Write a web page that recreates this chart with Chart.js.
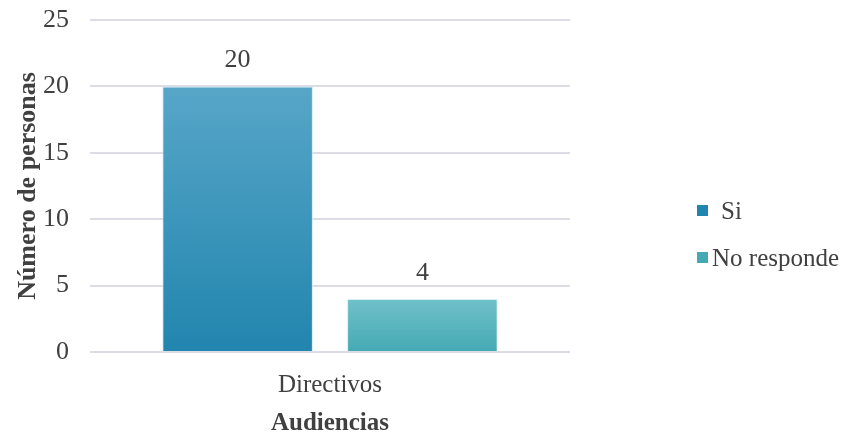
<!DOCTYPE html>
<html>
<head>
<meta charset="utf-8">
<script src="https://cdn.jsdelivr.net/npm/chart.js@4"></script>
<style>
  html, body { margin: 0; padding: 0; background: #ffffff; }
  #wrap { width: 844px; height: 439px; position: relative; }
</style>
</head>
<body>
<div id="wrap"><canvas id="chart"></canvas></div>
<script>
// data
const categories = ['Directivos'];
const seriesNames = ['Si', 'No responde'];
const siValues = [20];
const noRespondeValues = [4];
const yTicks = [0, 5, 10, 15, 20, 25];

const FONT = "'Liberation Serif', 'Times New Roman', serif";
const TEXT = '#404040';

// top / bottom colours of each bar gradient
const shades = [
    ['#57a6c8', '#2285ae'],
    ['#70c1c9', '#44a9b4']
];

function barGradient(ctx, i) {
    const chart = ctx.chart;
    const yScale = chart.scales.y;
    if (!yScale || ctx.raw == null) return shades[i][1];
    const top = yScale.getPixelForValue(ctx.raw);
    const bottom = yScale.getPixelForValue(0);
    if (!isFinite(top) || !isFinite(bottom) || top === bottom) return shades[i][1];
    const g = chart.ctx.createLinearGradient(0, top, 0, bottom);
    g.addColorStop(0, shades[i][0]);
    g.addColorStop(1, shades[i][1]);
    return g;
}

// value labels above the bars
const valueLabels = {
    id: 'valueLabels',
    afterDatasetsDraw(chart) {
        const c = chart.ctx;
        c.save();
        c.font = '26px ' + FONT;
        c.fillStyle = TEXT;
        c.textAlign = 'center';
        c.textBaseline = 'alphabetic';
        chart.data.datasets.forEach((ds, di) => {
            chart.getDatasetMeta(di).data.forEach((bar, i) => {
                c.fillText(String(ds.data[i]), bar.x, bar.y - 19);
            });
        });
        c.restore();
    }
};

// legend drawn to the right of the plot
const sideLegend = {
    id: 'sideLegend',
    afterDraw(chart) {
        const c = chart.ctx;
        const rows = [
            { y: 211, boxX: 697, textX: 721 },
            { y: 258, boxX: 697, textX: 712 }
        ];
        c.save();
        c.font = '25px ' + FONT;
        c.textBaseline = 'middle';
        c.textAlign = 'left';
        chart.data.datasets.forEach((ds, i) => {
            const r = rows[i];
            c.fillStyle = shades[i][1];
            c.fillRect(r.boxX, r.y - 6, 11, 11);
            c.fillStyle = TEXT;
            c.fillText(ds.label, r.textX, r.y + 1);
        });
        c.restore();
    }
};

new Chart(document.getElementById('chart'), {
    type: 'bar',
    data: {
        labels: categories,
        datasets: [
            {
                label: seriesNames[0],
                data: siValues,
                backgroundColor: ctx => barGradient(ctx, 0),
                borderColor: 'rgba(200,230,245,0.8)',
                borderWidth: 1,
                barPercentage: 0.815,
                categoryPercentage: 0.77
            },
            {
                label: seriesNames[1],
                data: noRespondeValues,
                backgroundColor: ctx => barGradient(ctx, 1),
                borderColor: 'rgba(200,235,240,0.8)',
                borderWidth: 1,
                barPercentage: 0.815,
                categoryPercentage: 0.77
            }
        ]
    },
    options: {
        responsive: true,
        maintainAspectRatio: false,
        animation: false,
        layout: {
            padding: { top: 20, right: 274, bottom: 0, left: 0 }
        },
        plugins: {
            legend: { display: false },
            tooltip: { enabled: false }
        },
        scales: {
            x: {
                grid: { display: false },
                border: { display: false },
                ticks: {
                    color: TEXT,
                    padding: 10,
                    font: { family: FONT, size: 25 }
                },
                title: {
                    display: true,
                    text: 'Audiencias',
                    color: TEXT,
                    padding: { top: 0, bottom: 0 },
                    font: { family: FONT, size: 25, weight: 'bold' }
                },
                afterFit(scale) {
                    scale.height = 87;
                    scale.paddingLeft = 0;
                    scale.paddingRight = 0;
                }
            },
            y: {
                min: 0,
                max: 25,
                afterBuildTicks(scale) {
                    scale.ticks = yTicks.map(v => ({ value: v }));
                },
                grid: {
                    color: '#dcdce4',
                    lineWidth: 2,
                    drawTicks: false
                },
                border: { display: false },
                ticks: {
                    color: TEXT,
                    padding: 21,
                    font: { family: FONT, size: 26 }
                },
                title: {
                    display: true,
                    text: 'Número de personas',
                    color: TEXT,
                    padding: { top: 13, bottom: 0 },
                    font: { family: FONT, size: 26, weight: 'bold' }
                },
                afterFit(scale) {
                    scale.width = 90;
                    scale.paddingTop = 0;
                    scale.paddingBottom = 0;
                }
            }
        }
    },
    plugins: [valueLabels, sideLegend]
});
</script>
</body>
</html>
